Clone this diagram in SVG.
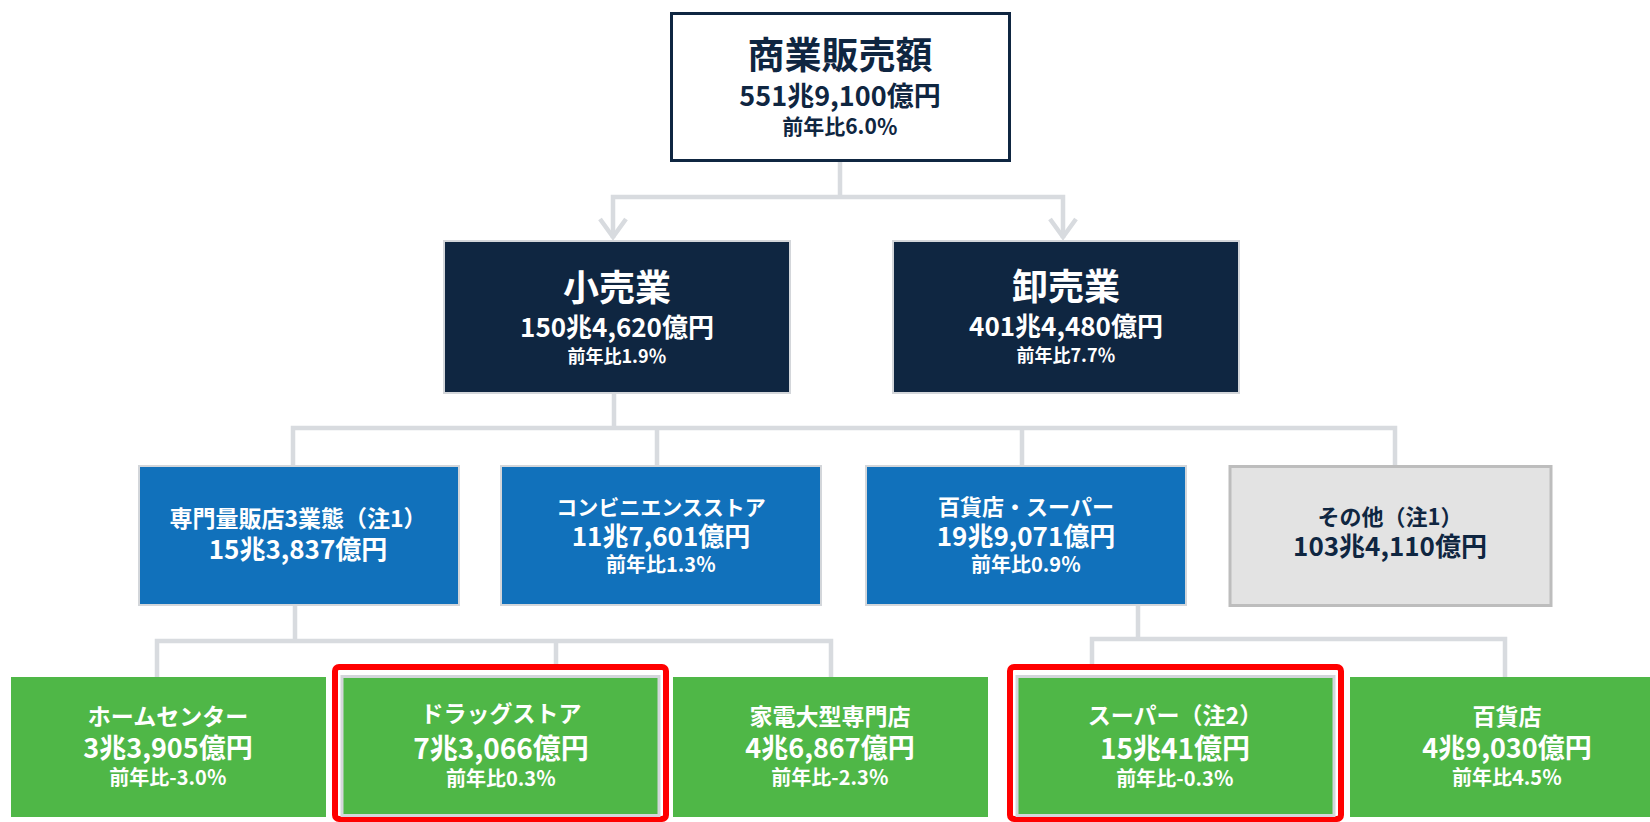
<svg xmlns="http://www.w3.org/2000/svg" width="1650" height="822" viewBox="0 0 1650 822">
<style>
text{font-family:"Noto Sans CJK JP","Noto Sans",sans-serif;font-weight:700;text-anchor:middle}
.w{fill:#ffffff}.d{fill:#0f2641}
.t37{font-size:37px}.t36{font-size:36px}.t27{font-size:27px}.t26{font-size:26px}.t28{font-size:28px}.t23{font-size:23px}.t22{font-size:22px}.t21{font-size:21px}.t20{font-size:20px}.t18{font-size:18px}
.navy{fill:#0f2641;stroke:#d3d6da;stroke-width:2}
.blue{fill:#1171bb;stroke:#d3d6da;stroke-width:2}
.grey{fill:#e3e3e3;stroke:#bdbdbd;stroke-width:3}
.green{fill:#4fb747}
.greenb{fill:#4fb747;stroke:#d3d6da;stroke-width:3}
.hl{fill:none;stroke:#ff0000;stroke-width:6}
.c{fill:none;stroke:#d8dbdf;stroke-width:4.5}
</style>
<g id="connectors">
<path class="c" d="M840,162 V197 M613,238 V197 H1063 V238"/>
<path class="c" d="M600,219 L613,237 L626,219 M1050,219 L1063,237 L1076,219"/>
<path class="c" d="M614,394 V428 M293,465 V428 H1395 V465 M657,428 V465 M1022,428 V465"/>
<path class="c" d="M295,606 V641 M157,677 V641 H831 V677 M556,641 V666"/>
<path class="c" d="M1138,606 V639 M1092,666 V639 H1505 V677"/>
</g>
<g id="n-total">
<rect x="671.5" y="13.5" width="338" height="147" fill="#ffffff" stroke="#0f2641" stroke-width="3"/>
<text class="d t37" x="840" y="69">商業販売額</text>
<text class="d t27" x="840" y="106">551兆9,100億円</text>
<text class="d t21" x="840" y="134">前年比6.0％</text>
</g>
<g id="n-retail">
<rect class="navy" x="444" y="241" width="346" height="152"/>
<text class="w t36" x="617" y="301">小売業</text>
<text class="w t26" x="617" y="337">150兆4,620億円</text>
<text class="w t18" x="617" y="363">前年比1.9％</text>
</g>
<g id="n-wholesale">
<rect class="navy" x="893" y="241" width="346" height="152"/>
<text class="w t36" x="1066" y="300">卸売業</text>
<text class="w t26" x="1066" y="336">401兆4,480億円</text>
<text class="w t18" x="1066" y="362">前年比7.7％</text>
</g>
<g id="n-specialty">
<rect class="blue" x="139" y="466" width="320" height="139"/>
<text class="w t23" x="298" y="527">専門量販店3業態（注1）</text>
<text class="w t26" x="298" y="559">15兆3,837億円</text>
</g>
<g id="n-convenience">
<rect class="blue" x="501" y="466" width="320" height="139"/>
<text class="w t21" x="661" y="515">コンビニエンスストア</text>
<text class="w t26" x="661" y="546">11兆7,601億円</text>
<text class="w t20" x="661" y="572">前年比1.3％</text>
</g>
<g id="n-dept-super">
<rect class="blue" x="866" y="466" width="320" height="139"/>
<text class="w t22" x="1026" y="515">百貨店・スーパー</text>
<text class="w t26" x="1026" y="546">19兆9,071億円</text>
<text class="w t20" x="1026" y="572">前年比0.9％</text>
</g>
<g id="n-other">
<rect class="grey" x="1230" y="466.5" width="321" height="139"/>
<text class="d t22" x="1390" y="525">その他（注1）</text>
<text class="d t26" x="1390" y="556">103兆4,110億円</text>
</g>
<g id="n-homecenter">
<rect class="green" x="11" y="677" width="315" height="140"/>
<text class="w t23" x="168" y="725">ホームセンター</text>
<text class="w t27" x="168" y="758">3兆3,905億円</text>
<text class="w t20" x="168" y="785">前年比-3.0％</text>
</g>
<g id="n-drugstore">
<rect class="hl" x="335" y="667" width="331" height="152" rx="4"/>
<rect class="greenb" x="342" y="676.5" width="317" height="139"/>
<text class="w t23" x="501" y="722">ドラッグストア</text>
<text class="w t28" x="501" y="759">7兆3,066億円</text>
<text class="w t20" x="501" y="786">前年比0.3％</text>
</g>
<g id="n-electronics">
<rect class="green" x="673" y="677" width="315" height="140"/>
<text class="w t23" x="830" y="725">家電大型専門店</text>
<text class="w t27" x="830" y="758">4兆6,867億円</text>
<text class="w t20" x="830" y="785">前年比-2.3％</text>
</g>
<g id="n-super">
<rect class="hl" x="1010" y="667" width="331" height="152" rx="4"/>
<rect class="greenb" x="1017" y="676.5" width="317" height="139"/>
<text class="w t23" x="1175" y="724">スーパー（注2）</text>
<text class="w t28" x="1175" y="759">15兆41億円</text>
<text class="w t20" x="1175" y="786">前年比-0.3％</text>
</g>
<g id="n-dept">
<rect class="green" x="1350" y="677" width="320" height="140"/>
<text class="w t23" x="1507" y="725">百貨店</text>
<text class="w t27" x="1507" y="758">4兆9,030億円</text>
<text class="w t20" x="1507" y="785">前年比4.5％</text>
</g>
</svg>
